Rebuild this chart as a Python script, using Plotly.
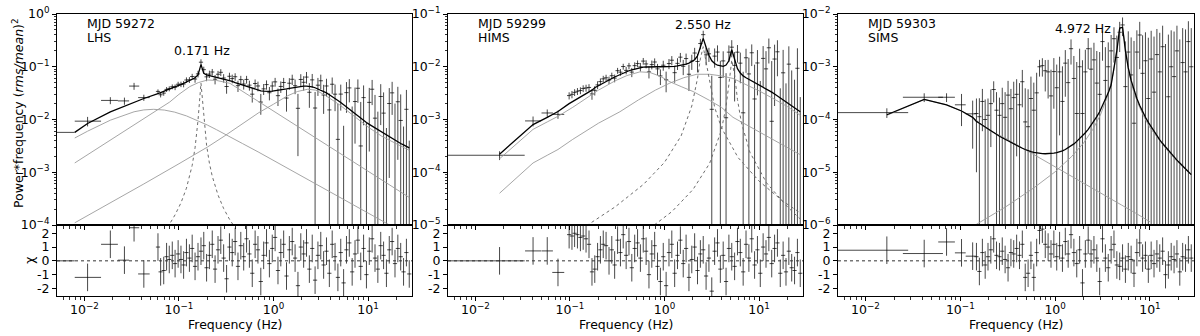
import plotly.graph_objects as go

W, H = 1200, 336
FONT = "DejaVu Sans"

# log-rebinned frequency grid of the power spectra (Hz)
freq_hz = [
    0.060, 0.064, 0.069, 0.074, 0.079, 0.085, 0.091, 0.098, 0.105, 0.112,
    0.120, 0.129, 0.138, 0.148, 0.159, 0.171, 0.183, 0.196, 0.210, 0.225,
    0.241, 0.259, 0.277, 0.297, 0.319, 0.342, 0.366, 0.393, 0.421, 0.451,
    0.484, 0.519, 0.556, 0.596, 0.639, 0.685, 0.734, 0.787, 0.844, 0.905,
    0.970, 1.040, 1.115, 1.195, 1.281, 1.373, 1.472, 1.578, 1.692, 1.814,
    1.944, 2.084, 2.234, 2.395, 2.568, 2.753, 2.951, 3.163, 3.391, 3.635,
    3.897, 4.177, 4.478, 4.800, 5.146, 5.516, 5.913, 6.339, 6.795, 7.284,
    7.809, 8.371, 8.973, 9.619, 10.31, 11.05, 11.85, 12.70, 13.62, 14.60,
    15.65, 16.77, 17.98, 19.28, 20.66, 22.15, 23.75, 25.46, 27.29]

mjd_labels = ["MJD 59272", "MJD 59299", "MJD 59303"]
state_labels = ["LHS", "HIMS", "SIMS"]
qpo_labels = ["0.171 Hz", "2.550 Hz", "4.972 Hz"]

# ---------------- MJD 59272 (LHS) ----------------
lhs_lf_freq = [0.0079, 0.0108, 0.0188, 0.0265, 0.0335, 0.0425]
lhs_lf_flo = [0.0045, 0.0079, 0.0150, 0.0226, 0.0297, 0.0370]
lhs_lf_fhi = [0.0079, 0.0150, 0.0226, 0.0297, 0.0380, 0.0490]
lhs_lf_pow = [5.7e-3, 9.3e-3, 2.3e-2, 2.25e-2, 4.3e-2, 2.6e-2]
lhs_lf_err = [0.0, 1.9e-3, 3.5e-3, 3.5e-3, 6.5e-3, 3.5e-3]
lhs_lf_model = [5.7e-3, 8.4e-3, 1.39e-2, 1.8e-2, 2.15e-2, 2.5e-2]
lhs_lf_chi = [0.0, -1.2, 1.2, 0.05, 2.4, -0.95]
lhs_lf_chi_err = [0.0, 1.0, 1.0, 1.0, 1.0, 1.0]

lhs_model = [
    3.1e-2, 3.2e-2, 3.4e-2, 3.6e-2, 3.8e-2, 4.0e-2, 4.2e-2, 4.4e-2, 4.6e-2, 4.9e-2,
    5.2e-2, 5.5e-2, 5.8e-2, 6.2e-2, 7.0e-2, 1.1e-1, 7.5e-2, 7.0e-2, 6.8e-2, 6.6e-2,
    6.5e-2, 6.3e-2, 6.1e-2, 5.9e-2, 5.7e-2, 5.5e-2, 5.3e-2, 5.0e-2, 4.8e-2, 4.6e-2,
    4.4e-2, 4.2e-2, 4.0e-2, 3.85e-2, 3.7e-2, 3.6e-2, 3.5e-2, 3.45e-2, 3.4e-2, 3.4e-2,
    3.45e-2, 3.5e-2, 3.55e-2, 3.6e-2, 3.7e-2, 3.8e-2, 3.9e-2, 4.0e-2, 4.1e-2, 4.2e-2,
    4.25e-2, 4.3e-2, 4.3e-2, 4.25e-2, 4.15e-2, 4.0e-2, 3.8e-2, 3.6e-2, 3.4e-2, 3.2e-2,
    2.95e-2, 2.75e-2, 2.55e-2, 2.3e-2, 2.1e-2, 1.9e-2, 1.72e-2, 1.55e-2, 1.4e-2, 1.27e-2,
    1.15e-2, 1.05e-2, 9.6e-3, 8.8e-3, 8.1e-3, 7.5e-3, 6.9e-3, 6.4e-3, 5.9e-3, 5.4e-3,
    5.0e-3, 4.6e-3, 4.3e-3, 4.0e-3, 3.7e-3, 3.5e-3, 3.3e-3, 3.1e-3, 2.9e-3]
lhs_pow = [
    3.41e-2, 2.94e-2, 3.16e-2, 3.72e-2, 3.84e-2, 4.18e-2, 4.10e-2, 4.66e-2, 4.66e-2, 4.71e-2,
    5.61e-2, 5.64e-2, 6.53e-2, 5.85e-2, 7.32e-2, 1.22e-1, 8.82e-2, 6.44e-2, 7.26e-2, 7.95e-2,
    5.80e-2, 7.21e-2, 7.84e-2, 6.12e-2, 4.22e-2, 6.60e-2, 5.97e-2, 6.47e-2, 4.38e-2, 5.71e-2,
    4.70e-2, 5.75e-2, 4.48e-2, 3.02e-2, 4.81e-2, 4.32e-2, 2.14e-2, 3.81e-2, 4.59e-2, 3.22e-2,
    4.32e-2, 5.17e-2, 2.83e-2, 4.23e-2, 5.03e-2, 2.55e-2, 4.87e-2, 5.79e-2, 4.37e-2, 1.63e-2,
    5.74e-2, 5.07e-2, 6.37e-2, 3.28e-2, 5.64e-2, 1.65e-2, 4.47e-2, 5.42e-2, 2.91e-2, 4.32e-2,
    1.52e-2, 4.66e-2, 3.02e-2, 4.2e-3, 3.03e-2, -1.14e-2, 3.23e-2, 3.97e-2, -5.6e-4, 2.19e-2,
    3.91e-2, 3.15e-3, 2.6e-2, -9.68e-3, 2.11e-2, 3.75e-2, 1.06e-2, -5.12e-3, 2.73e-2, 1.32e-2,
    -1.26e-2, 2.01e-2, 3.2e-2, 4e-5, 2.17e-2, 9.59e-3, -1.31e-2, 1.56e-2, -1.69e-2]
lhs_rel = [
    0.10, 0.10, 0.10, 0.11, 0.11, 0.11, 0.12, 0.12, 0.12, 0.13,
    0.13, 0.13, 0.14, 0.14, 0.15, 0.15, 0.16, 0.16, 0.17, 0.17,
    0.18, 0.18, 0.19, 0.19, 0.20, 0.20, 0.21, 0.21, 0.22, 0.22,
    0.23, 0.23, 0.24, 0.24, 0.25, 0.25, 0.26, 0.26, 0.27, 0.27,
    0.28, 0.28, 0.29, 0.29, 0.30, 0.30, 0.31, 0.32, 0.33, 0.34,
    0.35, 0.36, 0.37, 0.38, 0.40, 0.42, 0.44, 0.46, 0.48, 0.50,
    0.54, 0.58, 0.62, 0.68, 0.74, 1.0, 1.1, 1.2, 1.3, 1.45,
    1.6, 1.75, 1.9, 2.1, 2.3, 2.5, 2.7, 3.0, 3.3, 3.6,
    3.9, 4.2, 4.6, 5.0, 5.4, 5.8, 6.2, 6.7, 7.2]
lhs_chi = [
    1.0, -0.8, -0.7, 0.3, 0.1, 0.4, -0.2, 0.5, 0.1, -0.3,
    0.6, 0.2, 0.9, -0.4, 0.3, 0.7, 1.1, -0.5, 0.4, 1.2,
    -0.6, 0.8, 1.5, 0.2, -1.3, 1.0, 0.6, 1.4, -0.4, 1.1,
    0.3, 1.6, 0.5, -0.9, 1.2, 0.8, -1.5, 0.4, 1.3, -0.2,
    0.9, 1.7, -0.7, 0.6, 1.2, -1.1, 0.8, 1.4, 0.2, -1.8,
    1.0, 0.5, 1.3, -0.6, 0.9, -1.4, 0.4, 1.1, -0.3, 0.7,
    -0.9, 1.2, 0.3, -1.2, 0.6, -1.6, 0.8, 1.3, -0.8, 0.5,
    1.5, -0.4, 0.9, -1.0, 0.7, 1.6, 0.2, -0.6, 1.1, 0.4,
    -0.9, 0.8, 1.4, -0.2, 0.9, 0.3, -0.8, 0.6, -0.95]

lhs_lor1_f = [0.0079, 0.0108, 0.0188, 0.0265, 0.0335, 0.0425, 0.054, 0.07, 0.09, 0.12,
              0.15, 0.2, 0.25, 0.35, 0.47, 0.7, 1.0, 1.5, 2.0, 3.0, 5.0, 7.0, 10.0, 14.0, 20.0, 27.3]
lhs_lor1_y = [4.46e-3, 6.0e-3, 9.7e-3, 1.23e-2, 1.40e-2, 1.52e-2, 1.56e-2, 1.51e-2, 1.38e-2, 1.17e-2,
              9.9e-3, 7.85e-3, 6.4e-3, 4.7e-3, 3.5e-3, 2.39e-3, 1.68e-3, 1.12e-3, 8.4e-4, 5.6e-4,
              3.37e-4, 2.4e-4, 1.69e-4, 1.2e-4, 8.4e-5, 6.2e-5]
lhs_lor2_f = [0.0079, 0.0108, 0.0188, 0.0265, 0.0335, 0.0425, 0.06, 0.08, 0.1, 0.13,
              0.16, 0.2, 0.25, 0.3, 0.346, 0.4, 0.5, 0.7, 1.0, 1.5, 2.0, 3.0, 5.0, 7.0,
              10.0, 15.0, 20.0, 27.3]
lhs_lor2_y = [1.5e-3, 2.15e-3, 4.07e-3, 6.0e-3, 7.9e-3, 1.04e-2, 1.54e-2, 2.15e-2, 3.0e-2, 4.2e-2,
              5.0e-2, 5.6e-2, 5.5e-2, 5.15e-2, 4.85e-2, 4.11e-2, 3.19e-2, 2.17e-2, 1.45e-2, 9.1e-3,
              6.6e-3, 4.1e-3, 2.3e-3, 1.57e-3, 1.05e-3, 6.6e-4, 4.75e-4, 3.33e-4]
lhs_qpo_f = [0.069, 0.079, 0.091, 0.105, 0.12, 0.138, 0.148, 0.159, 0.171, 0.183,
             0.196, 0.21, 0.225, 0.259, 0.297, 0.342, 0.393]
lhs_qpo_y = [7.3e-5, 1.02e-4, 1.56e-4, 2.63e-4, 5.0e-4, 1.35e-3, 2.9e-3, 9.6e-3, 4.9e-2, 1.1e-2,
             3.25e-3, 1.48e-3, 8.4e-4, 3.7e-4, 2.05e-4, 1.29e-4, 8.8e-5]
lhs_lor3_f = [0.0079, 0.0188, 0.0425, 0.1, 0.2, 0.3, 0.5, 0.7, 1.0, 1.4,
              1.8, 2.3, 2.8, 3.5, 5.0, 7.0, 10.0, 14.0, 20.0, 27.3]
lhs_lor3_y = [1.1e-4, 2.6e-4, 6.0e-4, 1.45e-3, 3.0e-3, 4.8e-3, 9.0e-3, 1.35e-2, 1.95e-2, 2.8e-2,
              3.4e-2, 3.75e-2, 3.6e-2, 2.9e-2, 1.9e-2, 1.2e-2, 7.2e-3, 4.8e-3, 3.4e-3, 2.6e-3]

# ---------------- MJD 59299 (HIMS) ----------------
hims_lf_freq = [0.018, 0.0407, 0.0575, 0.0747]
hims_lf_flo = [0.0045, 0.0335, 0.050, 0.065]
hims_lf_fhi = [0.0332, 0.0495, 0.066, 0.087]
hims_lf_pow = [2.1e-4, 9.4e-4, 1.33e-3, 1.25e-3]
hims_lf_err = [4.0e-5, 2.0e-4, 2.2e-4, 2.2e-4]
hims_lf_model = [2.2e-4, 8.0e-4, 1.1e-3, 1.42e-3]
hims_lf_chi = [0.0, 0.72, 0.72, -0.84]
hims_lf_chi_err = [1.0, 1.0, 1.0, 1.0]

hims_model = [
    2.0e-3, 2.15e-3, 2.3e-3, 2.45e-3, 2.65e-3, 2.85e-3, 3.0e-3, 3.3e-3, 3.6e-3, 4.0e-3,
    4.3e-3, 4.6e-3, 4.9e-3, 5.2e-3, 5.6e-3, 6.0e-3, 6.4e-3, 6.8e-3, 7.2e-3, 7.6e-3,
    8.0e-3, 8.4e-3, 8.7e-3, 9.0e-3, 9.3e-3, 9.6e-3, 9.8e-3, 9.9e-3, 1.0e-2, 1.0e-2,
    1.0e-2, 1.0e-2, 1.0e-2, 1.0e-2, 1.0e-2, 1.0e-2, 1.01e-2, 1.02e-2, 1.04e-2, 1.06e-2,
    1.09e-2, 1.12e-2, 1.17e-2, 1.24e-2, 1.36e-2, 1.6e-2, 2.45e-2, 3.45e-2, 2.35e-2, 1.65e-2,
    1.3e-2, 1.15e-2, 1.07e-2, 1.03e-2, 1.02e-2, 1.08e-2, 1.3e-2, 2.1e-2, 1.4e-2, 9.2e-3,
    7.6e-3, 6.7e-3, 6.2e-3, 5.8e-3, 5.4e-3, 5.0e-3, 4.7e-3, 4.4e-3, 4.1e-3, 3.8e-3,
    3.55e-3, 3.3e-3, 3.05e-3, 2.8e-3, 2.6e-3, 2.4e-3, 2.2e-3, 2.0e-3, 1.85e-3, 1.7e-3,
    1.55e-3, 1.4e-3]
hims_pow = [
    2.84e-3, 3.0e-3, 3.27e-3, 3.43e-3, 3.55e-3, 3.88e-3, 3.96e-3, 4.05e-3, 3.05e-3, 3.57e-3,
    4.53e-3, 5.23e-3, 5.9e-3, 6.17e-3, 5.6e-3, 6.77e-3, 6.09e-3, 8.43e-3, 7.89e-3, 1.01e-2,
    8.54e-3, 1.04e-2, 7.92e-3, 1.05e-2, 1.15e-2, 9.96e-3, 1.28e-2, 1.13e-2, 8.0e-3, 1.1e-2,
    1.23e-2, 9.12e-3, 6.7e-3, 1.07e-2, 5.68e-3, 1.15e-2, 1.33e-2, 7.72e-3, 1.16e-2, 1.52e-2,
    1.02e-2, 1.43e-2, 7.21e-3, 1.28e-2, 1.82e-2, 1.26e-2, 2.76e-2, 4.06e-2, 1.68e-2, 1.76e-2,
    1.56e-3, 1.59e-2, 1.9e-2, 6.28e-3, 1.29e-2, 1.08e-3, 1.89e-2, 2.35e-2, 1.06e-2, 1.89e-2,
    1.17e-2, 1.34e-3, 1.48e-2, 7.31e-3, 1.84e-2, 2.45e-3, 1.18e-2, -4.31e-3, 1.44e-2, 9.12e-3,
    2.29e-2, 9.24e-4, 1.4e-2, 1.92e-2, -9.1e-3, 7.68e-3, -8.36e-3, 1.12e-2, -4.81e-3, -7.58e-3,
    9.36e-3, -9.94e-3]
hims_rel = [
    0.22, 0.22, 0.21, 0.21, 0.20, 0.20, 0.20, 0.19, 0.19, 0.18,
    0.18, 0.17, 0.17, 0.17, 0.16, 0.16, 0.16, 0.16, 0.16, 0.17,
    0.17, 0.17, 0.18, 0.18, 0.18, 0.19, 0.19, 0.20, 0.20, 0.21,
    0.21, 0.22, 0.22, 0.23, 0.24, 0.25, 0.26, 0.27, 0.28, 0.29,
    0.30, 0.31, 0.32, 0.33, 0.34, 0.30, 0.25, 0.22, 0.26, 0.32,
    0.40, 0.55, 0.60, 0.65, 0.66, 0.60, 0.50, 0.40, 0.6, 0.75,
    0.9, 1.0, 1.15, 1.3, 1.5, 1.7, 1.9, 2.2, 2.5, 2.8,
    3.2, 3.6, 4.0, 4.5, 5.0, 5.5, 6.0, 6.6, 7.2, 7.8,
    8.4, 9.0]
hims_chi = [
    1.9, 1.8, 2.0, 1.9, 1.7, 1.8, 1.6, 1.2, -0.8, -0.6,
    0.3, 0.8, 1.2, 1.1, 0.0, 0.8, -0.3, 1.5, 0.6, 1.9,
    0.4, 1.4, -0.5, 0.9, 1.3, 0.2, 1.6, 0.7, -1.0, 0.5,
    1.1, -0.4, -1.5, 0.3, -1.8, 0.6, 1.2, -0.9, 0.4, 1.5,
    -0.2, 0.9, -1.2, 0.1, 1.0, -0.7, 0.5, 0.8, -1.1, 0.2,
    -2.2, 0.7, 1.3, -0.6, 0.4, -1.5, 0.9, 0.3, -0.4, 1.4,
    0.6, -0.8, 1.2, 0.2, 1.6, -0.3, 0.8, -0.9, 1.0, 0.5,
    1.7, -0.2, 0.9, 1.3, -0.9, 0.4, -0.8, 0.7, -0.5, -0.7,
    0.6, -0.9]

hims_lor1_f = [0.018, 0.0407, 0.0575, 0.0747, 0.107, 0.15, 0.2, 0.3, 0.4, 0.55, 0.7, 0.9,
               1.14, 1.5, 2.0, 3.0, 4.0, 5.3, 7.0, 10.0, 15.0, 20.0, 27.3]
hims_lor1_y = [1.8e-4, 6.5e-4, 9.0e-4, 1.15e-3, 1.7e-3, 2.6e-3, 3.6e-3, 5.4e-3, 6.8e-3, 8.0e-3,
               7.8e-3, 6.6e-3, 5.2e-3, 4.2e-3, 3.4e-3, 2.3e-3, 1.7e-3, 1.1e-3, 8.3e-4, 5.8e-4,
               3.9e-4, 2.9e-4, 2.15e-4]
hims_lor2_f = [0.018, 0.0407, 0.0575, 0.0747, 0.107, 0.2, 0.337, 0.53, 0.8, 1.14, 1.6, 2.2,
               3.0, 4.0, 5.3, 7.0, 10.0, 15.0, 20.0, 27.3]
hims_lor2_y = [4.0e-5, 1.5e-4, 2.1e-4, 2.7e-4, 4.2e-4, 8.5e-4, 1.4e-3, 2.35e-3, 3.6e-3, 4.9e-3,
               6.2e-3, 7.2e-3, 7.2e-3, 6.7e-3, 6.0e-3, 4.8e-3, 3.5e-3, 2.35e-3, 1.75e-3, 1.2e-3]
hims_qpo1_f = [0.15, 0.3, 0.6, 1.0, 1.5, 1.944, 2.234, 2.395, 2.568, 2.753, 2.951, 3.391,
               4.0, 6.0, 10.0, 18.0, 27.3]
hims_qpo1_y = [9.7e-6, 2.2e-5, 5.9e-5, 1.54e-4, 4.9e-4, 1.8e-3, 6.0e-3, 1.41e-2, 2.4e-2, 1.28e-2,
               6.4e-3, 1.7e-3, 7.0e-4, 1.9e-4, 6.8e-5, 2.8e-5, 1.7e-5]
hims_qpo2_f = [0.78, 1.2, 2.0, 3.0, 4.0, 4.478, 4.8, 5.146, 5.516, 5.913, 6.5, 8.0, 12.0, 20.0, 27.3]
hims_qpo2_y = [1.0e-5, 1.8e-5, 4.7e-5, 1.47e-4, 6.3e-4, 1.78e-3, 4.65e-3, 1.34e-2, 7.0e-3, 2.4e-3,
               8.8e-4, 2.4e-4, 6.3e-5, 2.2e-5, 1.3e-5]

# ---------------- MJD 59303 (SIMS) ----------------
sims_lf_freq = [0.0168, 0.0416, 0.0716, 0.103, 0.135]
sims_lf_flo = [0.0045, 0.0248, 0.0585, 0.0877, 0.114]
sims_lf_fhi = [0.0282, 0.0656, 0.0877, 0.114, 0.146]
sims_lf_pow = [1.35e-4, 2.64e-4, 2.64e-4, 1.9e-4, 1.28e-4]
sims_lf_err = [2.8e-5, 5.0e-5, 5.0e-5, 1.15e-4, 1.0e-4]
sims_lf_model = [1.23e-4, 2.4e-4, 1.9e-4, 1.45e-4, 1.1e-4]
sims_lf_chi = [0.77, 0.53, 1.37, 0.58, 0.34]
sims_lf_chi_err = [1.0, 1.0, 1.0, 1.0, 1.0]

sims_model = [
    9.2e-5, 8.5e-5, 7.8e-5, 7.0e-5, 6.5e-5, 6.0e-5, 5.6e-5, 5.2e-5, 4.8e-5, 4.5e-5,
    4.2e-5, 3.9e-5, 3.65e-5, 3.4e-5, 3.2e-5, 3.0e-5, 2.85e-5, 2.7e-5, 2.55e-5, 2.45e-5,
    2.38e-5, 2.32e-5, 2.28e-5, 2.25e-5, 2.24e-5, 2.24e-5, 2.26e-5, 2.3e-5, 2.35e-5, 2.43e-5,
    2.55e-5, 2.7e-5, 2.9e-5, 3.15e-5, 3.45e-5, 3.85e-5, 4.3e-5, 4.9e-5, 5.6e-5, 6.5e-5,
    7.7e-5, 9.3e-5, 1.13e-4, 1.4e-4, 1.8e-4, 2.35e-4, 3.2e-4, 4.5e-4, 9.0e-4, 2.0e-3,
    5.4e-3, 5.6e-3, 2.0e-3, 9.5e-4, 5.5e-4, 3.6e-4, 2.5e-4, 1.85e-4, 1.4e-4, 1.1e-4,
    8.8e-5, 7.2e-5, 5.9e-5, 4.9e-5, 4.1e-5, 3.5e-5, 3.0e-5, 2.6e-5, 2.25e-5, 1.95e-5,
    1.7e-5, 1.5e-5, 1.3e-5, 1.15e-5, 1.02e-5, 9.0e-6]
sims_pow = [
    1.3e-4, 1.13e-4, 2.2e-4, 1.0e-4, 1.2e-4, 2.0e-4, 3.7e-4, 1.5e-4, 1.2e-4, 2.0e-4,
    1.1e-4, 2.9e-4, 1.6e-4, 2.6e-4, 3.0e-4, 1.9e-4, 5.2e-4, 9.0e-5, 7.3e-5, 2.5e-4,
    1.5e-4, 3.2e-4, 1.0e-3, 1.05e-3, 8.4e-4, 8.0e-4, 2.8e-4, 8.1e-4, 4.0e-4, 8.0e-4,
    2.2e-4, 1.17e-3, 5.0e-4, 2.2e-3, 6.0e-4, 1.3e-4, 1.0e-3, 1.3e-4, 8.0e-4, 2.2e-3,
    9.0e-4, 1.35e-3, 4.9e-4, 3.0e-4, 3.0e-3, 5.5e-4, 1.0e-3, 2.0e-3, 3.4e-3, 1.5e-3,
    4.5e-3, 6.2e-3, 4.2e-4, 1.9e-3, 7.0e-4, 8.5e-5, 1.9e-3, 4.0e-3, 7.5e-4, 1.3e-3,
    2.5e-4, 1.4e-3, 3.3e-4, 1.7e-3, 8.0e-4, 2.4e-3, -1.0e-3, 2.7e-4, 1.0e-3, 6.5e-4,
    2.0e-3, -8.0e-4, 1.2e-3, 8.0e-4, 3.0e-3, 1.0e-3]
sims_err = [
    1.2e-4, 1.4e-4, 1.6e-4, 1.4e-4, 1.3e-4, 1.7e-4, 1.6e-4, 1.8e-4, 1.4e-4, 2.0e-4,
    2.2e-4, 2.5e-4, 2.2e-4, 2.6e-4, 2.8e-4, 3.0e-4, 3.5e-4, 3.0e-4, 3.0e-4, 4.0e-4,
    3.5e-4, 4.5e-4, 3.5e-4, 4.0e-4, 5.0e-4, 5.5e-4, 6.0e-4, 6.5e-4, 7.0e-4, 7.5e-4,
    8.0e-4, 9.0e-4, 9.0e-4, 1.1e-3, 1.0e-3, 1.1e-3, 1.2e-3, 1.2e-3, 1.3e-3, 1.3e-3,
    1.4e-3, 1.5e-3, 1.5e-3, 1.6e-3, 1.7e-3, 1.8e-3, 1.9e-3, 2.0e-3, 2.2e-3, 2.4e-3,
    2.6e-3, 2.4e-3, 2.6e-3, 2.8e-3, 2.9e-3, 3.0e-3, 3.0e-3, 3.1e-3, 3.2e-3, 3.2e-3,
    3.3e-3, 3.4e-3, 3.4e-3, 3.5e-3, 3.6e-3, 3.6e-3, 3.7e-3, 3.8e-3, 3.9e-3, 4.0e-3,
    4.0e-3, 4.1e-3, 4.2e-3, 4.3e-3, 4.3e-3, 4.4e-3]
sims_chi = [
    0.3, -0.77, 0.6, -0.3, 0.3, 0.8, 1.6, 0.4, 0.3, 0.7,
    0.1, -0.5, 0.6, 0.5, 0.9, 0.4, 1.2, -1.2, -0.9, 0.4,
    -1.2, 0.6, 2.2, 2.3, 1.2, 1.0, 0.5, 1.2, 0.3, 1.1,
    0.2, 1.4, 0.5, 1.9, 0.6, -0.2, 0.8, -1.6, 0.5, 1.5,
    0.5, 0.8, 0.2, -1.5, 1.6, 0.2, -0.5, 0.8, 1.2, -0.3,
    -0.4, 0.2, -0.6, 0.3, 0.1, -0.9, 0.6, 1.3, 0.2, 0.4,
    -0.6, 0.4, -0.2, 0.5, 0.2, 0.7, -1.0, -0.3, 0.3, 0.1,
    0.5, -0.8, 0.3, 0.2, 0.8, 0.2]

sims_lor_f = [0.0168, 0.0416, 0.0716, 0.103, 0.135, 0.2, 0.3, 0.42, 0.6, 0.8, 1.0, 1.5,
              2.0, 3.0, 5.0, 7.0, 10.0]
sims_lor_y = [1.2e-4, 2.4e-4, 1.9e-4, 1.45e-4, 1.1e-4, 6.3e-5, 4.4e-5, 3.1e-5, 2.1e-5, 1.6e-5,
              1.25e-5, 8.2e-6, 6.1e-6, 4.0e-6, 2.4e-6, 1.7e-6, 1.15e-6]
sims_qpo_f = [0.144, 0.3, 0.6, 1.0, 1.5, 2.0, 2.5, 3.0, 3.5, 3.897, 4.177, 4.478, 4.8, 5.146,
              5.516, 5.913, 6.339, 6.795, 7.5, 8.5, 10.0, 15.0, 20.0, 27.3]
sims_qpo_y = [1.0e-6, 2.2e-6, 5.1e-6, 1.02e-5, 2.0e-5, 3.6e-5, 6.5e-5, 1.21e-4, 2.5e-4, 4.9e-4,
              9.0e-4, 2.0e-3, 5.4e-3, 5.6e-3, 2.1e-3, 9.4e-4, 5.1e-4, 3.2e-4, 2.0e-4, 1.2e-4,
              7.0e-5, 2.7e-5, 1.5e-5, 9.0e-6]


def tail(grid, values):
    return grid[len(grid) - len(values):]


# comps: (freq, nuP, is_qpo)
panels = [
    dict(lf_f=lhs_lf_freq, lf_lo=lhs_lf_flo, lf_hi=lhs_lf_fhi, lf_p=lhs_lf_pow,
         lf_e=lhs_lf_err, lf_m=lhs_lf_model, lf_c=lhs_lf_chi, lf_ce=lhs_lf_chi_err,
         f=tail(freq_hz, lhs_pow), p=lhs_pow, m=lhs_model, c=lhs_chi,
         e=[r * m for r, m in zip(lhs_rel, lhs_model)],
         comps=[(lhs_lor1_f, lhs_lor1_y, False), (lhs_lor2_f, lhs_lor2_y, False),
                (lhs_qpo_f, lhs_qpo_y, True), (lhs_lor3_f, lhs_lor3_y, False)],
         decades=(-4, 0), x_px=(57, 412)),
    dict(lf_f=hims_lf_freq, lf_lo=hims_lf_flo, lf_hi=hims_lf_fhi, lf_p=hims_lf_pow,
         lf_e=hims_lf_err, lf_m=hims_lf_model, lf_c=hims_lf_chi, lf_ce=hims_lf_chi_err,
         f=tail(freq_hz, hims_pow), p=hims_pow, m=hims_model, c=hims_chi,
         e=[r * m for r, m in zip(hims_rel, hims_model)],
         comps=[(hims_lor1_f, hims_lor1_y, False), (hims_lor2_f, hims_lor2_y, False),
                (hims_qpo1_f, hims_qpo1_y, True), (hims_qpo2_f, hims_qpo2_y, True)],
         decades=(-5, -1), x_px=(448, 803)),
    dict(lf_f=sims_lf_freq, lf_lo=sims_lf_flo, lf_hi=sims_lf_fhi, lf_p=sims_lf_pow,
         lf_e=sims_lf_err, lf_m=sims_lf_model, lf_c=sims_lf_chi, lf_ce=sims_lf_chi_err,
         f=tail(freq_hz, sims_pow), p=sims_pow, m=sims_model, c=sims_chi,
         e=sims_err,
         comps=[(sims_lor_f, sims_lor_y, False), (sims_qpo_f, sims_qpo_y, False)],
         decades=(-6, -2), x_px=(838, 1194)),
]


def vsegs(xs, lo, hi, floor):
    X, Y = [], []
    for x, a, b in zip(xs, lo, hi):
        if b <= floor:
            continue
        X += [x, x, None]
        Y += [max(a, floor), b, None]
    return X, Y


def hsegs(x0s, x1s, ys, floor):
    X, Y = [], []
    for a, b, y in zip(x0s, x1s, ys):
        if y <= floor:
            continue
        X += [a, b, None]
        Y += [y, y, None]
    return X, Y


def px_y(y):
    return 1 - y / H


BAR = "rgba(0,0,0,0.72)"
X_RANGE = [-2.29, 1.465]
TOP_DOM = [px_y(225), px_y(14)]
BOT_DOM = [px_y(296), px_y(225)]

AX = dict(showline=True, linecolor="black", linewidth=1, mirror=True, showgrid=False,
          zeroline=False, ticks="outside", tickcolor="black", tickwidth=1, ticklen=4,
          automargin=False, tickfont=dict(family=FONT, size=12.5, color="black"))
MINOR = dict(ticks="outside", ticklen=2.5, tickwidth=0.8, tickcolor="black",
             dtick="D1", showgrid=False)


def sup(k):
    return "10<sup>%s</sup>" % (("\u2212%d" % -k) if k < 0 else str(k))


fig = go.Figure()
layout = {}
shapes = []
annotations = []
tick_mark = dict(symbol="line-ew-open", size=3, color=BAR, line=dict(width=1, color=BAR))

for k, P in enumerate(panels):
    nt, nb = 2 * k + 1, 2 * k + 2
    xt, yt = ("x" if nt == 1 else "x%d" % nt), ("y" if nt == 1 else "y%d" % nt)
    xb, yb = "x%d" % nb, "y%d" % nb
    floor = 1e-12

    f_all = P["lf_f"] + P["f"]
    p_all = P["lf_p"] + P["p"]
    e_all = P["lf_e"] + P["e"]
    c_all = P["lf_c"] + P["c"]
    ce_all = P["lf_ce"] + [1.0 for _ in P["c"]]

    # data, top panel
    X, Y = vsegs(f_all, [p - e for p, e in zip(p_all, e_all)],
                 [p + e for p, e in zip(p_all, e_all)], floor)
    fig.add_trace(go.Scatter(x=X, y=Y, mode="lines", line=dict(color=BAR, width=1),
                             xaxis=xt, yaxis=yt, hoverinfo="skip"))
    X, Y = hsegs(P["lf_lo"], P["lf_hi"], P["lf_p"], floor)
    fig.add_trace(go.Scatter(x=X, y=Y, mode="lines", line=dict(color=BAR, width=1),
                             xaxis=xt, yaxis=yt, hoverinfo="skip"))
    pos = [(f, p) for f, p in zip(P["f"], P["p"]) if p > 0]
    fig.add_trace(go.Scatter(x=[a for a, _ in pos], y=[b for _, b in pos], mode="markers",
                             marker=tick_mark, xaxis=xt, yaxis=yt, hoverinfo="skip"))

    # model components and total
    for cf, cy, is_qpo in P["comps"]:
        style = (dict(color="#6e6e6e", width=1, dash="dot") if is_qpo
                 else dict(color="#9c9c9c", width=0.9))
        fig.add_trace(go.Scatter(x=cf, y=cy, mode="lines", line=style,
                                 xaxis=xt, yaxis=yt, hoverinfo="skip"))
    fig.add_trace(go.Scatter(x=f_all, y=P["lf_m"] + P["m"], mode="lines",
                             line=dict(color="black", width=1.3),
                             xaxis=xt, yaxis=yt, hoverinfo="skip"))

    # residuals
    X, Y = vsegs(f_all, [c - s for c, s in zip(c_all, ce_all)],
                 [c + s for c, s in zip(c_all, ce_all)], -99)
    fig.add_trace(go.Scatter(x=X, y=Y, mode="lines", line=dict(color=BAR, width=1),
                             xaxis=xb, yaxis=yb, hoverinfo="skip"))
    X, Y = hsegs(P["lf_lo"], P["lf_hi"], P["lf_c"], -99)
    fig.add_trace(go.Scatter(x=X, y=Y, mode="lines", line=dict(color=BAR, width=1),
                             xaxis=xb, yaxis=yb, hoverinfo="skip"))
    fig.add_trace(go.Scatter(x=P["f"], y=P["c"], mode="markers", marker=tick_mark,
                             xaxis=xb, yaxis=yb, hoverinfo="skip"))

    shapes.append(dict(type="line", xref="%s domain" % xb, yref=yb, x0=0, x1=1, y0=0, y1=0,
                       line=dict(color="#333333", width=1, dash="dot"), layer="above"))

    x0, x1 = P["x_px"]
    dom = [x0 / W, x1 / W]
    lo_d, hi_d = P["decades"]
    xt_name = "xaxis" if nt == 1 else "xaxis%d" % nt
    yt_name = "yaxis" if nt == 1 else "yaxis%d" % nt
    layout[xt_name] = dict(AX, type="log", range=X_RANGE, domain=dom, anchor=yt,
                           matches=xb, showticklabels=False,
                           tickvals=[0.01, 0.1, 1, 10], minor=MINOR)
    layout[yt_name] = dict(AX, type="log", range=[lo_d, hi_d], domain=TOP_DOM, anchor=xt,
                           tickvals=[10.0 ** d for d in range(lo_d, hi_d + 1)],
                           ticktext=[sup(d) for d in range(lo_d, hi_d + 1)], minor=MINOR)
    layout["xaxis%d" % nb] = dict(AX, type="log", range=X_RANGE, domain=dom, anchor=yb,
                                  tickvals=[0.01, 0.1, 1, 10], ticklabelstandoff=-2,
                                  ticktext=[sup(-2), sup(-1), sup(0), sup(1)], minor=MINOR)
    layout["yaxis%d" % nb] = dict(AX, range=[-2.55, 2.6], domain=BOT_DOM, anchor=xb,
                                  tickvals=[-2, -1, 0, 1, 2],
                                  ticktext=["-2", "-1", "0", "1", "2"])

    # texts
    annotations.append(dict(text=mjd_labels[k], x=(x0 + 28.3) / W, y=px_y(23.8),
                            xanchor="left", yanchor="middle"))
    annotations.append(dict(text=state_labels[k], x=(x0 + 28.3) / W, y=px_y(37.2),
                            xanchor="left", yanchor="middle"))
    annotations.append(dict(text="Frequency (Hz)", x=(x0 + x1) / 2 / W, y=px_y(324.5),
                            xanchor="center", yanchor="middle"))

qpo_pos = [(201.7, 50.5), (702.5, 24.7), (1082.5, 28.7)]
for lab, (qx, qy) in zip(qpo_labels, qpo_pos):
    annotations.append(dict(text=lab, x=qx / W, y=px_y(qy), xanchor="center", yanchor="middle"))

annotations.append(dict(text="Power*frequency (<i>rms/mean</i>)<sup>2</sup>", x=18 / W,
                        y=px_y(113), textangle=-90, xanchor="center", yanchor="middle"))
annotations.append(dict(text="\u03c7", x=30 / W, y=px_y(260.7), textangle=-90,
                        xanchor="center", yanchor="middle"))

for a in annotations:
    a.update(xref="paper", yref="paper", showarrow=False,
             font=dict(family=FONT, size=12.5, color="black"))

fig.update_layout(
    template="none",
    width=W, height=H,
    margin=dict(l=0, r=0, t=0, b=0),
    paper_bgcolor="white", plot_bgcolor="white",
    showlegend=False,
    font=dict(family=FONT, size=12.5, color="black"),
    shapes=shapes,
    annotations=annotations,
    **layout,
)

# the page body carries the browser's default 8px margin; drop it so the figure sits at (0, 0)
fig.write_html("out.html", config={"staticPlot": True, "displayModeBar": False},
               post_script="document.body.style.margin='0';document.body.style.overflow='hidden';")
